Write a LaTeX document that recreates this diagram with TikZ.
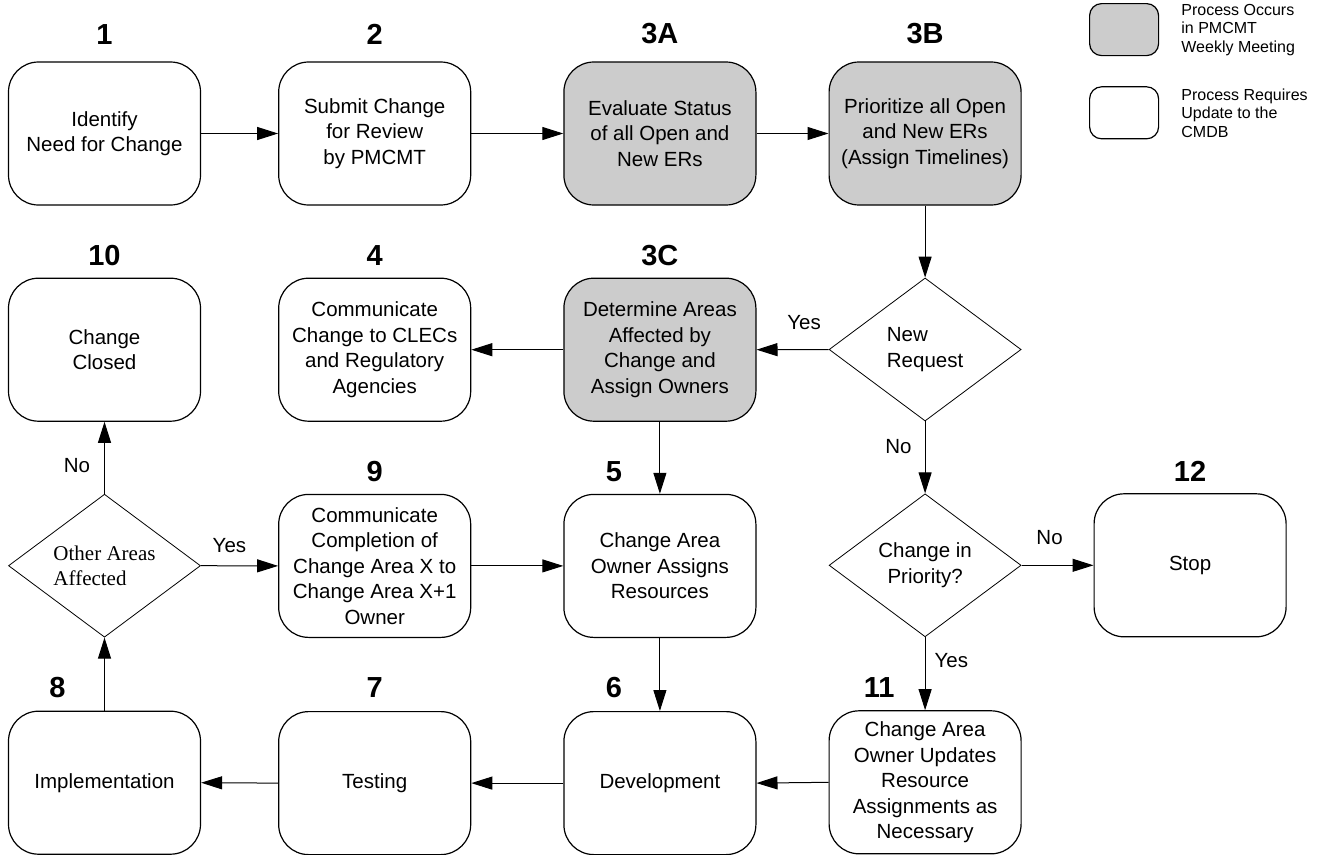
\documentclass[tikz,border=0pt]{standalone}
\usepackage{fontspec}
\setmainfont{Liberation Sans}
\newfontfamily\serifnote{Liberation Serif}
\usepackage{xcolor}
\usetikzlibrary{arrows.meta, positioning, shapes.geometric}
\definecolor{meetgray}{RGB}{204,204,204}

\begin{document}
\begin{tikzpicture}[x=1pt, y=1pt,
  proc/.style={draw, line width=1.2pt, rounded corners=30pt, minimum width=192pt, minimum height=143pt, inner sep=2pt, align=center, font=\fontsize{20.5}{25.5}\selectfont},
  meet/.style={proc, fill=meetgray},
  cond/.style={draw, diamond, aspect=1.34, line width=0.8pt, minimum width=192pt, minimum height=143pt, inner sep=0pt, font=\fontsize{20.5}{25.5}\selectfont},
  edge/.style={-{Triangle[length=21pt, width=13pt]}, line width=1pt},
  lab/.style={inner sep=0pt, font=\fontsize{20.5}{24}\selectfont},
  num/.style={inner sep=0pt, font=\bfseries\fontsize{29}{29}\selectfont},
  legbox/.style={draw, line width=1.2pt, rounded corners=12pt, minimum width=69pt, minimum height=52pt},
  legtxt/.style={inner sep=0pt, align=left, font=\fontsize{16}{18.5}\selectfont}
]
\useasboundingbox (0,0) rectangle (1325,-854);

% top row
\node[proc] (n1) at (104.5,-133.5) {Identify\\Need for Change};
\node[proc, right=77pt of n1] (n2) {Submit Change\\for Review\\by PMCMT};
\node[meet, right=92pt of n2] (n3a) {Evaluate Status\\of all Open and\\New ERs};
\node[meet, right=72pt of n3a] (n3b) {Prioritize all Open\\and New ERs\\(Assign Timelines)};

% second row
\node[proc, below=72pt of n1] (n10) {Change\\Closed};
\node[proc, below=72pt of n2] (n4) {Communicate\\Change to CLECs\\and Regulatory\\Agencies};
\node[meet, below=72pt of n3a] (n3c) {Determine Areas\\Affected by\\Change and\\Assign Owners};
\node[cond, align=left, below=72pt of n3b] (dq1) {New\\Request};

% third row
\node[cond, align=left, font=\serifnote\fontsize{21}{25}\selectfont, below=72pt of n10] (dq0) {Other Areas\\Affected};
\node[proc, below=72pt of n4] (n9) {Communicate\\Completion of\\Change Area X to\\Change Area X+1\\Owner};
\node[proc, below=72pt of n3c] (n5) {Change Area\\Owner Assigns\\Resources};
\node[cond, align=center, below=72pt of dq1] (dq2) {Change in\\Priority?};
\node[proc, right=72pt of dq2] (n12) {Stop};

% bottom row
\node[proc, below=73pt of dq0] (n8) {Implementation};
\node[proc, below=73pt of n9] (n7) {Testing};
\node[proc, below=73pt of n5] (n6) {Development};
\node[proc, below=73pt of dq2] (n11) {Change Area\\Owner Updates\\Resource\\Assignments as\\Necessary};

% step numbers
\node[num, above=17pt of n1] {1};
\node[num, above=17pt of n2] {2};
\node[num, above=17pt of n3a] {3A};
\node[num, above=17pt of n3b] {3B};
\node[num, above=12pt of n10] {10};
\node[num, above=12pt of n4] {4};
\node[num, above=12pt of n3c] {3C};
\node[num, above=12pt of n9] {9};
\node[num, above=12pt of n5, xshift=-46pt] {5};
\node[num, above=12pt of n12] {12};
\node[num, above=13pt of n8, xshift=-47pt] {8};
\node[num, above=13pt of n7] {7};
\node[num, above=13pt of n6, xshift=-46pt] {6};
\node[num, above=13pt of n11, xshift=-46pt] {11};

% flow
\draw[edge] (n1.east) -- (n2.west);
\draw[edge] (n2.east) -- (n3a.west);
\draw[edge] (n3a.east) -- (n3b.west);
\draw[edge] (n3b.south) -- (dq1.north);
\draw[edge] (dq1.west) -- node[lab, above=19pt, pos=.34] {Yes} (n3c.east);
\draw[edge] (n3c.west) -- (n4.east);
\draw[edge] (n3c.south) -- (n5.north);
\draw[edge] (dq1.south) -- node[lab, left=13pt, pos=.35] {No} (dq2.north);
\draw[edge] (dq2.east) -- node[lab, above=20pt, pos=.39] {No} (n12.west);
\draw[edge] (dq2.south) -- node[lab, right=9pt, pos=.32] {Yes} (n11.north);
\draw[edge] (n11.west) -- (n6.east);
\draw[edge] (n5.south) -- (n6.north);
\draw[edge] (n6.west) -- (n7.east);
\draw[edge] (n7.west) -- (n8.east);
\draw[edge] (n8.north) -- (dq0.south);
\draw[edge] (dq0.north) -- node[lab, left=14pt, pos=.39] {No} (n10.south);
\draw[edge] (dq0.east) -- node[lab, above=13pt, pos=.37] {Yes} (n9.west);
\draw[edge] (n9.east) -- (n5.west);

% legend
\node[legbox, fill=meetgray, anchor=north west] (legmeet) at (1089,-3) {};
\node[legtxt, right=22pt of legmeet] {Process Occurs\\in PMCMT\\Weekly Meeting};
\node[legbox, below=30pt of legmeet] (legcmdb) {};
\node[legtxt, right=22pt of legcmdb] {Process Requires\\Update to the\\CMDB};
\end{tikzpicture}
\end{document}
